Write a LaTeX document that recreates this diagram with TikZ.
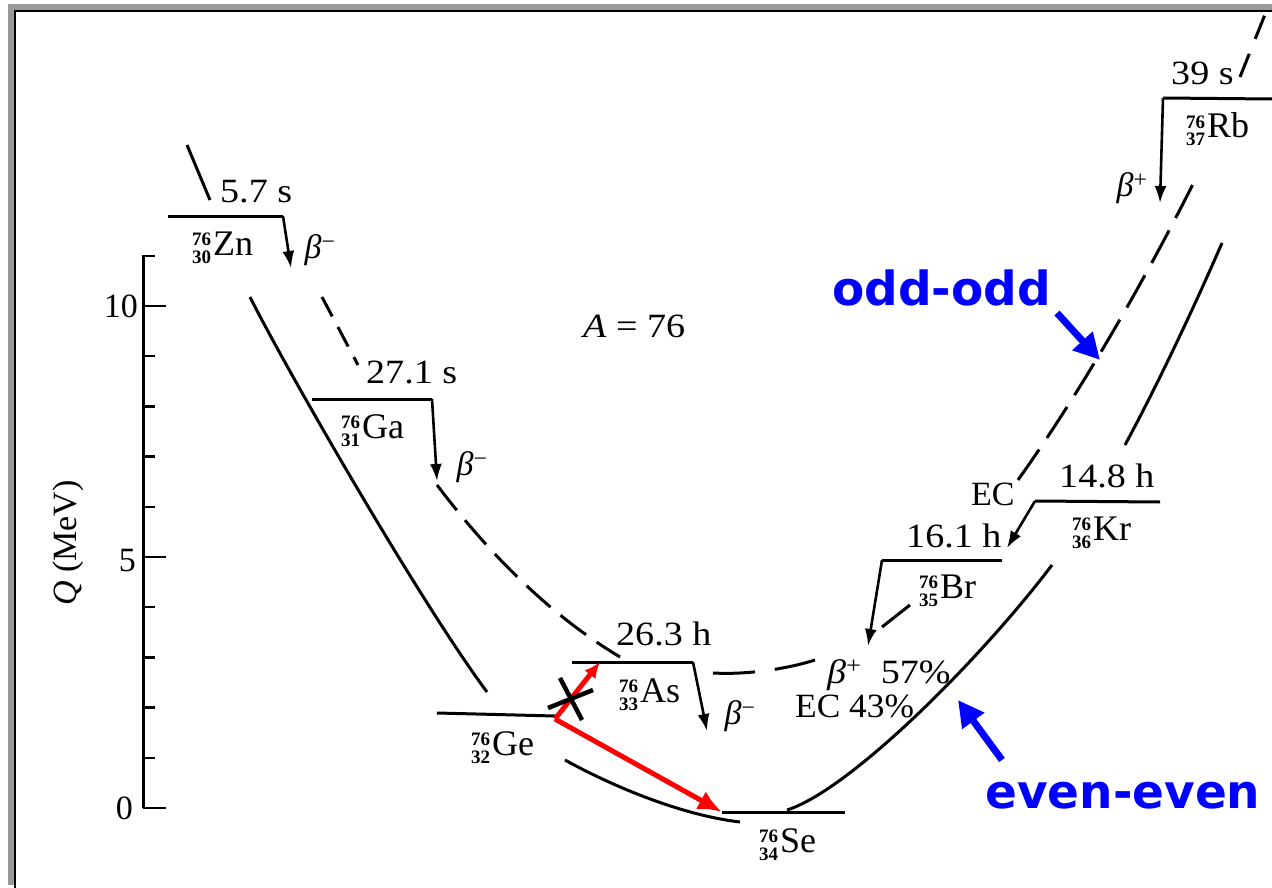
\documentclass[tikz,border=0pt]{standalone}
\usepackage{fontspec}
\usepackage{graphicx}
\setmainfont{Liberation Serif}
\newfontfamily\blufont{DejaVu Sans}
\usetikzlibrary{arrows.meta}
\definecolor{framegray}{gray}{0.6}
\definecolor{annblue}{RGB}{0,0,255}
\definecolor{annred}{RGB}{255,0,0}
\newcommand\nuc[3]{{\raisebox{-8pt}{\fontsize{19}{17}\selectfont\bfseries\begin{tabular}[b]{@{}r@{}}#1\\#2\end{tabular}}}\hspace{2pt}{\fontsize{36}{40}\selectfont #3}}
\newcommand\bm{{\itshape β}\textsuperscript{−}}
\newcommand\bp{{\itshape β}\textsuperscript{+}}
\newcommand\sx[1]{\scalebox{1.12}[1]{#1}}
\begin{document}
\begin{tikzpicture}[x=1pt,y=-1pt,
  txt/.style={inner sep=0pt,font=\fontsize{34}{38}\selectfont},
  lvl/.style={line width=3pt},
  dec/.style={line width=2.6pt,-{Latex[length=17pt,width=12pt]}},
  ee/.style={line width=3pt},
  oo/.style={line width=3pt,dash pattern=on 32pt off 13pt},
  redarr/.style={annred,line width=5pt,-{Latex[length=24pt,width=20pt]}},
  bluearr/.style={annblue,line width=7pt,-{Triangle[length=26pt,width=26pt]}},
  blu/.style={inner sep=0pt,text=annblue,font=\blufont\bfseries\fontsize{47}{50}\selectfont}]
\useasboundingbox (0,0) rectangle (1272,888);
\fill[white] (0,0) rectangle (1272,888);
% frame
\fill[framegray] (8,4) rectangle (14,885);
\fill[framegray] (8,4) rectangle (1272,10);
\draw[line width=2pt] (15,888) -- (15,11) -- (1272,11);
% axis
\draw[line width=3pt] (143,255) -- (143,808);
\foreach \q in {1,2,3,4,6,7,8,9,11} \draw[line width=2.5pt] (143,808-50.2*\q) -- (155,808-50.2*\q);
\foreach \q in {0,5,10} \draw[line width=2.5pt] (143,808-50.2*\q) -- (166,808-50.2*\q);
\node[txt,anchor=east] (t10) at (138,306) {10};
\node[txt,anchor=east] (t5) at (136,561) {5};
\node[txt,anchor=east] (t0) at (133,808) {0};
\node[txt,rotate=90] (qlab) at (68,543) {\textit{Q} (MeV)};
% levels
\coordinate (ZnL) at (168,216); \coordinate (ZnR) at (283,216); \coordinate (ZnA) at (291,268);
\coordinate (GaL) at (312,399); \coordinate (GaR) at (432,399); \coordinate (GaA) at (437,481);
\coordinate (GeL) at (437,713); \coordinate (GeR) at (555,716);
\coordinate (AsL) at (572,662); \coordinate (AsR) at (693,662); \coordinate (AsA) at (707,731);
\coordinate (SeL) at (722,812); \coordinate (SeR) at (845,812);
\coordinate (BrL) at (882,560); \coordinate (BrR) at (1002,560); \coordinate (BrA) at (868,646);
\coordinate (KrL) at (1035,501); \coordinate (KrR) at (1160,502); \coordinate (KrA) at (1007,548);
\coordinate (RbL) at (1163,98); \coordinate (RbR) at (1272,99); \coordinate (RbA) at (1160,203);
\draw[lvl] (ZnL) -- (ZnR);
\draw[dec] (ZnR) -- (ZnA);
\draw[lvl] (GaL) -- (GaR);
\draw[dec] (GaR) -- (GaA);
\draw[lvl] (GeL) -- (GeR);
\draw[lvl] (AsL) -- (AsR);
\draw[dec] (AsR) -- (AsA);
\draw[lvl] (SeL) -- (SeR);
\draw[lvl] (BrR) -- (BrL);
\draw[dec] (BrL) -- (BrA);
\draw[lvl] (KrR) -- (KrL);
\draw[dec] (KrL) -- (KrA);
\draw[lvl] (RbR) -- (RbL);
\draw[dec] (RbL) -- (RbA);
% labels
\node[txt,anchor=base west] (hZn) at (220,202) {\sx{5.7 s}};
\node[txt,anchor=base west] (nZn) at (192,255) {\nuc{76}{30}{Zn}};
\node[txt] (bZn) at (320,250) {\bm};
\node[txt,anchor=base west] (hGa) at (366,383) {\sx{27.1 s}};
\node[txt,anchor=base west] (nGa) at (341,438) {\nuc{76}{31}{Ga}};
\node[txt] (bGa) at (472,467) {\bm};
\node[txt,anchor=base west] (hAs) at (616,645) {\sx{26.3 h}};
\node[txt,anchor=base west] (nAs) at (619,702) {\nuc{76}{33}{As}};
\node[txt] (bAs) at (740,716) {\bm};
\node[txt,anchor=base west] (nGe) at (471,755) {\nuc{76}{32}{Ge}};
\node[txt,anchor=base west] (nSe) at (759,852) {\nuc{76}{34}{Se}};
\node[txt,anchor=base west] (bpBr) at (827,683) {\sx{\bp\ \ 57\%}};
\node[txt,anchor=base west] (ecBr) at (795,717) {\scalebox{1.04}[1]{EC 43\%}};
\node[txt,anchor=base west] (hBr) at (906,547) {\sx{16.1 h}};
\node[txt,anchor=base west] (nBr) at (919,598) {\nuc{76}{35}{Br}};
\node[txt,anchor=base west] (hKr) at (1059,487) {\sx{14.8 h}};
\node[txt,anchor=base west] (nKr) at (1072,540) {\nuc{76}{36}{Kr}};
\node[txt,anchor=base west] (ecKr) at (971,505) {EC};
\node[txt,anchor=base west] (hRb) at (1171,85) {\sx{39 s}};
\node[txt,anchor=base west] (nRb) at (1186,138) {\nuc{76}{37}{Rb}};
\node[txt] (bRb) at (1132,188) {\bp};
\node[txt,anchor=base west] (mass) at (583,337) {\sx{\textit{A} = 76}};
% even-even curve (solid)
\draw[ee] (187,145) -- (210,200);
\draw[ee] (250,297) .. controls (285,367) and (420,602) .. (487,692);
\draw[ee] (565,760) .. controls (610,785) and (680,815) .. (740,822);
\draw[ee] (787,810) .. controls (850,790) and (980,660) .. (1052,565);
\draw[ee] (1125,445) .. controls (1160,380) and (1195,305) .. (1222,243);
% odd-odd curve (dashed)
\draw[oo,dash pattern=on 22pt off 12pt] (322,297) -- (358,365);
\draw[oo] (437,485) .. controls (490,555) and (550,615) .. (620,657);
\draw[oo,dash pattern=on 42pt off 20pt] (713,673) .. controls (750,675) and (790,668) .. (815,660);
\draw[oo,solid] (882,627) -- (910,605);
\draw[oo,dash pattern=on 37pt off 14pt] (1018,480) .. controls (1075,400) and (1140,290) .. (1195,180);
\draw[oo,dash pattern=on 25pt off 16pt] (1240,77) -- (1266,12);
% double beta decay annotation
\coordinate (GeS) at (555,719);
\draw[redarr,-{Latex[length=16pt,width=14pt]}] (GeS) -- (600,662);
\draw[redarr] (GeS) -- (SeL);
\draw[line width=4.5pt] (560,678) -- (582,720);
\draw[line width=4.5pt] (548,708) -- (593,690);
% annotations
\node[blu,anchor=base west] (oddodd) at (832,305) {odd-odd};
\node[blu,anchor=base west] (eveneven) at (985,808) {even-even};
\coordinate (ooTip) at (1100,360);
\coordinate (eeTip) at (958,700);
\draw[bluearr] (1057,313) -- (ooTip);
\draw[bluearr] (1002,760) -- (eeTip);
\end{tikzpicture}
\end{document}
